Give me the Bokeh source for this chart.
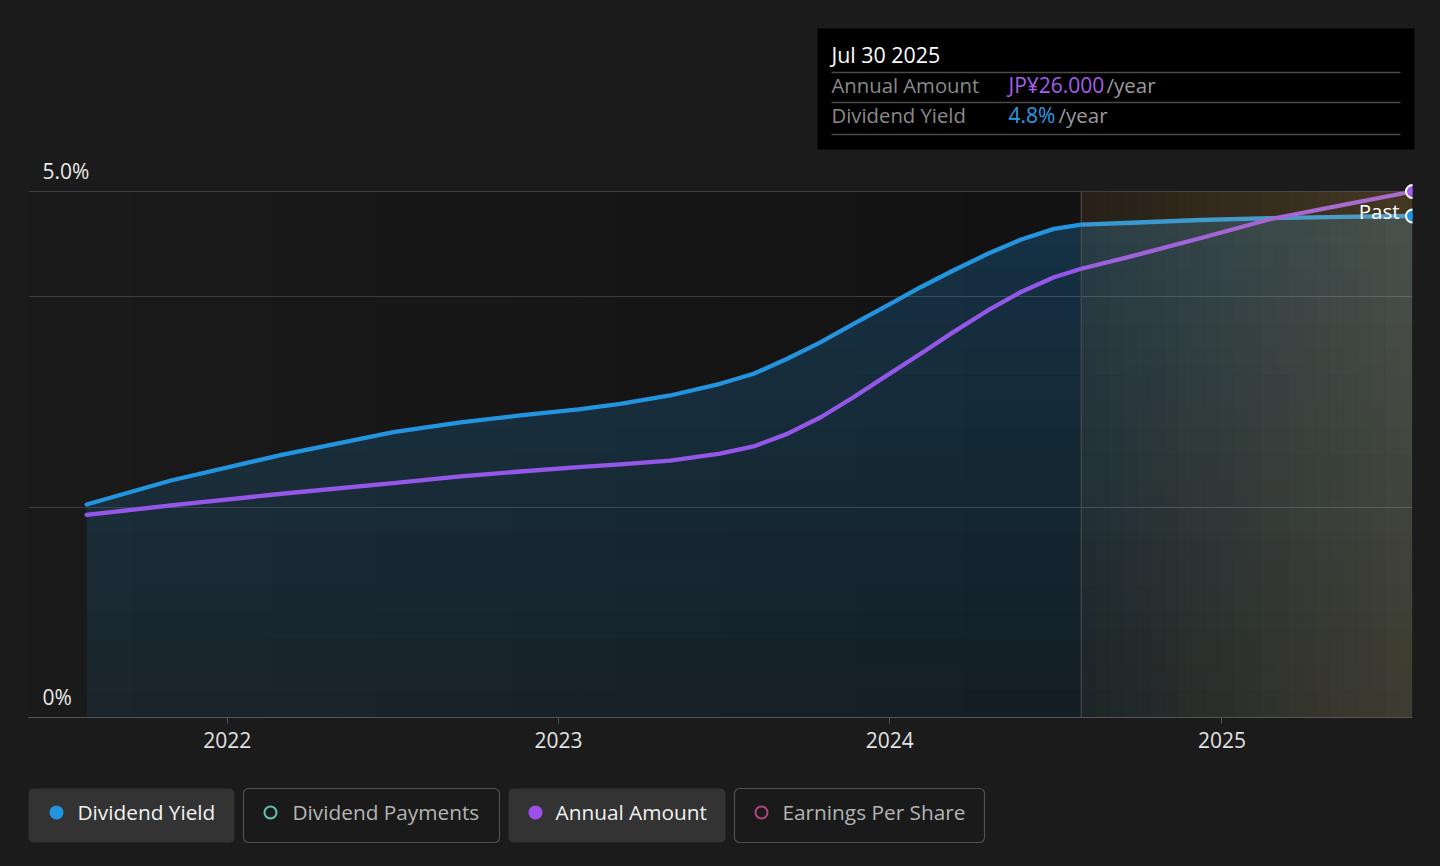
import numpy as np
import pandas as pd
from bokeh.plotting import figure
from bokeh.models import Range1d, FixedTicker, DatetimeTickFormatter, Label
from bokeh.layouts import column
from bokeh.embed import file_html
from bokeh.resources import INLINE
from bokeh.core.properties import value

# ---------------- data ----------------
dates = ["2021-07-30", "2021-10-31", "2022-03-02", "2022-07-03", "2022-09-15",
         "2022-11-20", "2023-01-23", "2023-03-10", "2023-05-04", "2023-06-28",
         "2023-08-04", "2023-09-10", "2023-10-17", "2023-11-22", "2023-12-29",
         "2024-02-04", "2024-03-11", "2024-04-18", "2024-05-24", "2024-06-30",
         "2024-07-30", "2024-09-23", "2024-12-09", "2025-02-24", "2025-05-12",
         "2025-07-30"]
dividend_yield = [2.025, 2.253, 2.497, 2.712, 2.806, 2.871, 2.928, 2.982, 3.061, 3.172,
                  3.267, 3.410, 3.568, 3.742, 3.916, 4.090, 4.249, 4.408, 4.541, 4.645,
                  4.686, 4.703, 4.729, 4.746, 4.758, 4.767]
annual_amount = [10.02, 10.48, 11.06, 11.58, 11.92, 12.16, 12.38, 12.51, 12.70, 13.04,
                 13.40, 14.02, 14.84, 15.83, 16.91, 17.98, 19.05, 20.12, 21.02, 21.76,
                 22.18, 22.79, 23.70, 24.64, 25.31, 26.00]
tick_years = [2022, 2023, 2024, 2025]
y_label_values = [0, 5]
y_label_texts = ["0%", "5.0%"]
grid_values = [2, 4, 5]
past_start = "2024-07-30"
view_start = "2021-05-27"
tooltip_date = "Jul 30 2025"
legend_labels = ["Dividend Yield", "Dividend Payments", "Annual Amount", "Earnings Per Share"]
legend_active = [True, False, True, False]

# ---------------- style ----------------
FONT = "Open Sans"
BG = "#1b1b1b"
BLUE = "#2394df"
PURPLE = "#9457e8"
PURPLE_TXT = "#a65ee8"
TEAL = "#5ec4b2"
PINK = "#b3437f"
W = 1424
Y_MAX = 5.0
Y_TOP = Y_MAX * 559 / 526          # a little head-room above the 5% line (layout)

x = pd.to_datetime(dates)
y_yield = np.array(dividend_yield)
y_amt = np.array(annual_amount)
x0 = pd.Timestamp(view_start)
x1 = x[-1]
xp = pd.Timestamp(past_start)

common = dict(toolbar_location=None, output_backend="svg", frame_align=False,
              background_fill_color=BG, border_fill_color=BG, outline_line_color=None,
              styles={"background-color": BG})

# ---------------- tooltip figure ----------------
t = figure(width=W, height=150, x_range=Range1d(0, W), y_range=Range1d(150, 0),
           min_border=0, min_border_left=0, min_border_right=0, min_border_top=0,
           min_border_bottom=0, x_axis_location=None, y_axis_location=None, **common)
t.grid.visible = False
t.quad(left=[809], right=[1406], top=[20], bottom=[141], fill_color="black", line_color=None)
t.segment(x0=[823, 823, 823], x1=[1392, 1392, 1392], y0=[64, 94, 126], y1=[64, 94, 126],
          line_color="#4a4a4a", line_width=1.5)
t.text(x=[823], y=[46], text=[tooltip_date], text_font=value(FONT), text_font_size="21.4px",
       text_color="white", text_baseline="middle")
t.text(x=[823, 823], y=[76, 106], text=["Annual Amount", "Dividend Yield"],
       text_font=value(FONT), text_font_size="20.3px", text_color="#8a8a8a", text_baseline="middle")
t.text(x=[1000], y=[76], text=[f"JP¥{annual_amount[-1]:.3f}"], text_font=value(FONT),
       text_font_size="21px", text_color=PURPLE_TXT, text_baseline="middle")
t.text(x=[1000], y=[106], text=[f"{dividend_yield[-1]:.1f}%"], text_font=value(FONT),
       text_font_size="21px", text_color="#2d9de3", text_baseline="middle")
t.text(x=[1098, 1050], y=[76, 106], text=["/year", "/year"], text_font=value(FONT),
       text_font_size="20.5px", text_color="#9a9a9a", text_baseline="middle")

# ---------------- main chart ----------------
p = figure(width=W, height=612, x_axis_type="datetime",
           x_range=Range1d(x0, x1), y_range=Range1d(0, Y_TOP),
           y_axis_location=None,
           min_border_left=20, min_border_right=20, min_border_top=0, min_border_bottom=53,
           **common)
p.extra_y_ranges = {"amount": Range1d(0, max(annual_amount) * Y_TOP / Y_MAX)}

# darkening of the plot area towards the "past" boundary
n_strips = 40
edges = pd.date_range(x0, x1, periods=n_strips + 1)
mids = edges[:-1] + (edges[1:] - edges[:-1]) / 2
frac = np.clip((mids - x0) / (xp - x0), 0, 1)
p.quad(left=edges[:-1], right=edges[1:], bottom=0, top=Y_MAX, fill_color="black",
       fill_alpha=list(0.33 * np.asarray(frac, dtype=float)), line_color=None, level="image")

# grid
p.xgrid.visible = False
p.ygrid.ticker = FixedTicker(ticks=grid_values)
p.ygrid.grid_line_color = "#3c3c3c"
p.ygrid.grid_line_width = 1

# x axis
p.xaxis.ticker = FixedTicker(ticks=[pd.Timestamp(f"{yr}-01-01").value / 1e6 for yr in tick_years])
p.xaxis.formatter = DatetimeTickFormatter(years="%Y", months="%Y", days="%Y")
p.xaxis.axis_line_color = "#555555"
p.xaxis.major_tick_line_color = "#555555"
p.xaxis.major_tick_out = 6
p.xaxis.major_tick_in = 0
p.xaxis.minor_tick_line_color = None
p.xaxis.major_label_text_color = "#e2e2e2"
p.xaxis.major_label_text_font = FONT
p.xaxis.major_label_text_font_size = "21px"
p.xaxis.major_label_standoff = 8

# area under dividend yield (vertical gradient built from horizontal bands)
band_edges = np.linspace(0, Y_MAX, 21)
for lo, hi in zip(band_edges[:-1], band_edges[1:]):
    mid = (lo + hi) / 2
    p.varea(x=x, y1=np.minimum(y_yield, lo), y2=np.minimum(y_yield, hi),
            fill_color=BLUE, fill_alpha=0.09 + 0.034 * mid)

# past boundary
p.segment(x0=[xp], x1=[xp], y0=[0], y1=[Y_MAX], line_color="#474747", line_width=1.2)

# lines
p.line(x, y_yield, line_color=BLUE, line_width=4.3, line_join="round", line_cap="round")
p.line(x, y_amt, y_range_name="amount", line_color=PURPLE, line_width=4.3,
       line_join="round", line_cap="round")

# warm overlay over the past region
n_cols = 24
cedges = pd.date_range(xp, x1, periods=n_cols + 1)
cf = np.linspace(0.5 / n_cols, 1 - 0.5 / n_cols, n_cols)
p.quad(left=cedges[:-1], right=cedges[1:], bottom=0, top=Y_MAX, fill_color="#ffc564",
       fill_alpha=list(0.045 + 0.14 * cf), line_color=None)
n_rows = 12
redges = np.linspace(0, Y_MAX, n_rows + 1)
rf = (redges[:-1] + redges[1:]) / 2 / Y_MAX
p.quad(left=[xp] * n_rows, right=[x1] * n_rows, bottom=redges[:-1], top=redges[1:],
       fill_color="#ffc564", fill_alpha=list(0.045 * rf), line_color=None)

# end markers
p.scatter(x=[x[-1]], y=[y_yield[-1]], size=13, fill_color=BLUE, line_color="white", line_width=2)
p.scatter(x=[x[-1]], y=[y_amt[-1]], y_range_name="amount", size=13, fill_color=PURPLE_TXT,
          line_color="white", line_width=2)

p.add_layout(Label(x=x[-1], y=y_yield[-1], x_offset=-13, y_offset=5, text="Past",
                   text_align="right", text_baseline="middle", text_color="white",
                   text_font=FONT, text_font_size="20.5px"))
for v, s in zip(y_label_values, y_label_texts):
    p.add_layout(Label(x=x0, y=v, x_offset=14, y_offset=21, text=s, text_align="left",
                       text_baseline="alphabetic", text_color="#e8e8e8",
                       text_font=FONT, text_font_size="21px"))

# ---------------- legend figure ----------------
lg = figure(width=W, height=88, x_range=Range1d(0, W), y_range=Range1d(88, 0),
            min_border=0, min_border_left=0, min_border_right=0, min_border_top=0,
            min_border_bottom=0, x_axis_location=None, y_axis_location=None, **common)
lg.grid.visible = False
btn_left = [20, 235, 500, 726]
btn_right = [226, 491, 717, 976]
dot_x = [48, 262, 527, 753]
txt_x = [69, 284, 547, 774]
dot_colors = [BLUE, TEAL, "#9d50ea", PINK]
for i, lab in enumerate(legend_labels):
    act = legend_active[i]
    lg.quad(left=[btn_left[i]], right=[btn_right[i]], top=[18], bottom=[72],
            fill_color="#333333" if act else "#1a1a1a",
            line_color=None if act else "#4f4f4f", line_width=1.2, border_radius=5)
    if act:
        lg.scatter(x=[dot_x[i]], y=[42], size=14, fill_color=dot_colors[i], line_color=None)
    else:
        lg.scatter(x=[dot_x[i]], y=[42], size=12, fill_color=None, line_color=dot_colors[i],
                   line_width=2)
    lg.text(x=[txt_x[i]], y=[41], text=[lab], text_font=value(FONT), text_font_size="20.8px",
            text_color="#f2f2f2" if act else "#b4b4b4", text_baseline="middle")

layout = column(t, p, lg, spacing=0, styles={"background-color": BG})
html = file_html(layout, INLINE)
css = ("<style>html{background:#1b1b1b !important;}"
       "body{margin:0 !important;padding:8px !important;background:#1b1b1b !important;"
       "box-sizing:border-box !important;}</style>")
html = html.replace("</head>", css + "</head>", 1)
open("out.html", "w").write(html)
